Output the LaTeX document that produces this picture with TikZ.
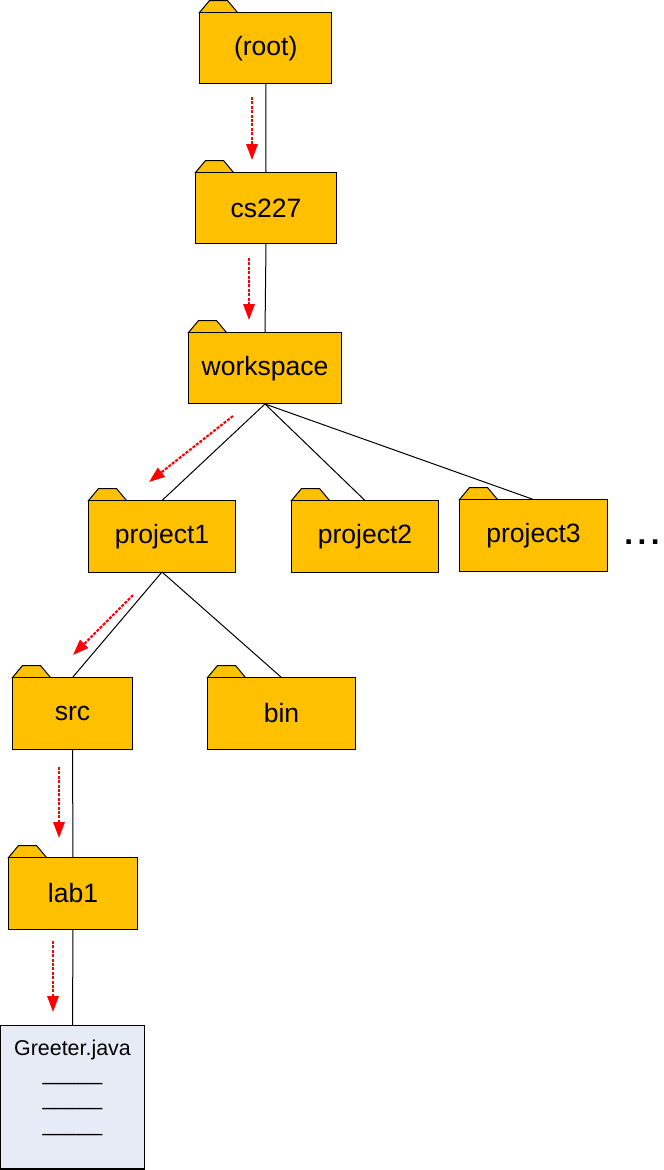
\documentclass[tikz,border=0pt]{standalone}
\usepackage{fontspec}
\setmainfont{Liberation Sans}
\usetikzlibrary{arrows.meta}
\edef\sizefolder{1.43cm}
\definecolor{foldercolor}{RGB}{255,192,0}
\definecolor{filecolor}{RGB}{230,235,245}
\tikzstyle{folder}=[draw,fill=foldercolor,line width=0.57pt,outer sep=0pt,minimum height=\sizefolder,inner sep=0pt,font=\fontsize{15.1}{18}\selectfont,
	append after command={\pgfextra{\draw[fill=foldercolor,line width=0.57pt] (\tikzlastnode.north west) -- ++(10,-12) -- ++(18,0) -- ++(10,12) -- cycle;}}]
\tikzstyle{treeline}=[black,line width=0.57pt]
\tikzstyle{walk}=[red,line width=1.2pt,dash pattern=on 1.7pt off 0.8pt,-{Triangle[width=6.4pt,length=9pt,sep=0pt]}]

\begin{document}
\begin{tikzpicture}[x=0.02cm,y=-0.02cm]
		\useasboundingbox (0,0) rectangle (663,1170);

		\node [folder, minimum width=2.65cm] (root) at (265.75,48.25) {(root)};
		\node [folder, minimum width=2.82cm] (cs) at (266,208.25) {cs227};
		\node [folder, minimum width=3.06cm] (workspace) at (265,368.25) {workspace};
		\node [folder, minimum width=2.94cm] (projectA) at (162,536.25) {project1};
		\node [folder, minimum width=2.94cm] (projectB) at (365,536.25) {project2};
		\node [folder, minimum width=2.96cm] (projectC) at (533.5,535.25) {project3};
		\node [folder, minimum width=2.4cm] (src) at (72.5,713.25) {src};
		\node [folder, minimum width=2.96cm] (bin) at (281.5,713.25) {bin};
		\node [folder, minimum width=2.58cm] (lab) at (73,893.25) {lab1};
		\node [draw, fill=filecolor, line width=0.57pt, outer sep=0pt, minimum width=2.88cm, minimum height=2.87cm] (greeter) at (72.5,1097.25) {};
		\node [anchor=north, align=center, inner sep=0pt, yshift=-0.29cm, font=\fontsize{12.2}{14.46}\selectfont] (greeterText) at (greeter.north) {Greeter.java\\[-0.6pt]\_\_\_\_\_\\\_\_\_\_\_\\\_\_\_\_\_};
		\node [anchor=base, inner sep=0pt, font=\fontsize{18}{20}\bfseries\selectfont] (more) at (642,544) {.\hspace{2.6pt}.\hspace{2.6pt}.};

		\draw[treeline] (root.south) -- (cs.north);
		\draw[treeline] (cs.south) -- (workspace.north);
		\draw[treeline] (workspace.south) -- (projectA.north);
		\draw[treeline] (workspace.south) -- (projectB.north);
		\draw[treeline] (workspace.south) -- (projectC.north);
		\draw[treeline] (projectA.south) -- (src.north);
		\draw[treeline] (projectA.south) -- (bin.north);
		\draw[treeline] (src.south) -- (lab.north);
		\draw[treeline] (lab.south) -- (greeter.north);

		\coordinate (walkAStart) at (252,97);
		\coordinate (walkAEnd) at (252,160);
		\coordinate (walkBStart) at (249,258);
		\coordinate (walkBEnd) at (249,320);
		\coordinate (walkCStart) at (233,416);
		\coordinate (walkCEnd) at (149,482);
		\coordinate (walkDStart) at (133,595);
		\coordinate (walkDEnd) at (73,655);
		\coordinate (walkEStart) at (59,767);
		\coordinate (walkEEnd) at (59,838);
		\coordinate (walkFStart) at (53,941);
		\coordinate (walkFEnd) at (53,1012);

		\foreach \w in {A,B,C,D,E,F}
			\draw[walk] (walk\w Start) -- (walk\w End);
	\end{tikzpicture}
\end{document}
